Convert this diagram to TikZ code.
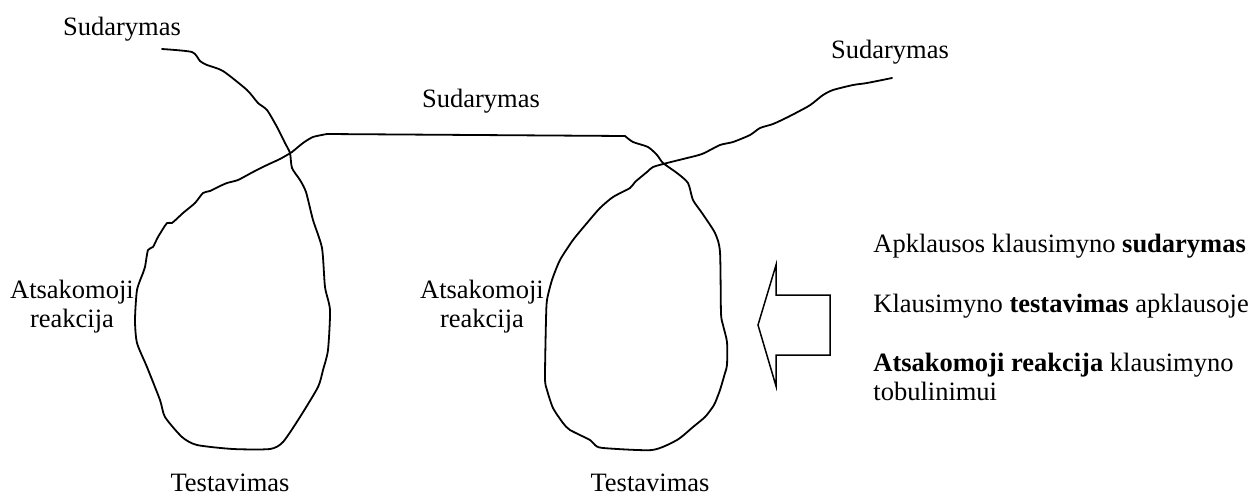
\documentclass[tikz,border=0pt]{standalone}
\usepackage{fontspec}
\setmainfont{Liberation Serif}
\usepackage{tikz}

\tikzset{
  lbl/.style={font=\fontsize{13.25}{14.5}\selectfont, inner sep=0pt},
  sketch/.style={line width=0.9pt, line join=round, line cap=round},
  bigarrow/.style={line width=0.75pt, line join=miter}
}

\begin{document}
\begin{tikzpicture}[x=0.5pt,y=-0.5pt]

\useasboundingbox (0,0) rectangle (1254,494);

% Labels
\node[lbl, anchor=base] (sud1) at (122,35) {Sudarymas};
\node[lbl, anchor=base] (sud2) at (481,107) {Sudarymas};
\node[lbl, anchor=base] (sud3) at (890,58) {Sudarymas};

\node[lbl, anchor=base, align=center] (ats1) at (72,327) {Atsakomoji\\reakcija};
\node[lbl, anchor=base, align=center] (ats2) at (482,327) {Atsakomoji\\reakcija};

\node[lbl, anchor=base] (test1) at (230,491) {Testavimas};
\node[lbl, anchor=base] (test2) at (650,491) {Testavimas};


% The hand drawn line with both loops
\draw[sketch] plot[smooth, tension=0.4] coordinates {
  (162,49) (192,52) (200,61) (207,65) (223,71) (247,90) (258,103) (267,110)
  (277,127) (285,143) (290,153) (292,168) (300,180) (306,192) (313,220)
  (322,248) (325,287) (330,310) (328,350) (323,370) (318,387) (300,417)
  (283,442) (270,449) (233,449) (197,445) (182,437) (165,417) (160,400)
  (147,367) (137,343) (135,320) (137,290) (143,273) (145,267) (148,250)
  (153,247) (158,237) (167,223) (172,223) (183,213) (195,203) (203,193)
  (210,191) (218,187) (227,183) (238,180) (253,172) (267,165) (280,159)
  (287,155) (292,152) (303,143) (313,137) (327,134)};
\draw[sketch] (327,134) -- (625,136);
\draw[sketch] plot[smooth, tension=0.4] coordinates {
  (625,136) (633,142) (648,147) (657,155) (663,163) (677,173) (688,183)
  (693,200) (702,213) (715,233) (720,252) (721,313) (723,325) (727,342)
  (727,365) (725,373) (720,390) (715,403) (712,408) (705,417) (693,427)
  (677,440) (652,450) (603,448) (595,445) (590,440) (570,430) (563,423)
  (553,408) (547,390) (545,378) (546,320) (547,300) (552,280) (560,260)
  (573,240) (587,223) (600,208) (613,197) (630,188) (635,182) (647,172)
  (653,167) (667,163) (683,159) (702,154) (720,145) (733,142) (750,135)
  (760,128) (773,124) (788,117) (807,107) (813,103) (823,95) (833,90)
  (853,85) (867,83) (892,78)};


% Block arrow
\draw[bigarrow] (758,325) -- (776,265) -- (776,295) -- (830,295)
  -- (830,355) -- (776,355) -- (776,386) -- cycle;


% Explanation
\node[lbl, anchor=base west] (exp1) at (873,252) {Apklausos klausimyno \textbf{sudarymas}};
\node[lbl, anchor=base west] (exp2) at (873,312) {Klausimyno \textbf{testavimas} apklausoje};
\node[lbl, anchor=base west, align=left] (exp3) at (873,400)
  {\textbf{Atsakomoji reakcija} klausimyno\\tobulinimui};

\end{tikzpicture}
\end{document}
